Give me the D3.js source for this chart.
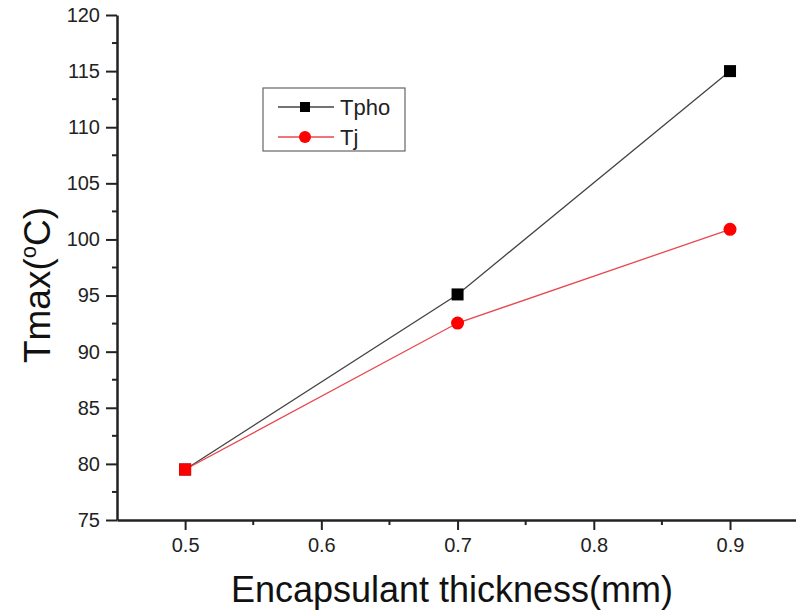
<!DOCTYPE html>
<html><head><meta charset="utf-8">
<script src="https://cdn.jsdelivr.net/npm/d3@7"></script>
<style>body{margin:0;background:#fff}svg{display:block}</style>
</head><body>
<svg id="c" width="796" height="615"></svg>
<script>
const thickness = [0.5, 0.7, 0.9];
const tpho = [79.5, 95.1, 115.0];
const tj = [79.5, 92.55, 100.9];
const tjShapes = ["square", "circle", "circle"];
const xTicks = [0.5, 0.6, 0.7, 0.8, 0.9];
const yTicks = [75, 80, 85, 90, 95, 100, 105, 110, 115, 120];
const seriesNames = ["Tpho", "Tj"];

const svg = d3.select("#c");
const font = "Liberation Sans, Arial, sans-serif";
const x = d3.scaleLinear().domain([0.45, 0.98]).range([117, 839]);
const y = d3.scaleLinear().domain([75, 120]).range([520, 15]);

const xMinor = d3.range(0.45, 0.98, 0.05).filter(v => !xTicks.some(t => Math.abs(t - v) < 1e-6) && v > 0.46);
const yMinor = d3.range(77.5, 120, 5);

const gx = svg.append("g").attr("transform", "translate(0,520)");
gx.call(d3.axisBottom(x).tickValues(xTicks).tickFormat(d3.format(".1f")).tickSize(10).tickSizeOuter(0).tickPadding(8));
gx.selectAll("line.minor").data(xMinor).enter().append("line")
  .attr("x1", d => x(d)).attr("x2", d => x(d)).attr("y1", 0).attr("y2", 5).attr("stroke", "#222").attr("stroke-width", 2);

const gy = svg.append("g").attr("transform", "translate(117,0)");
gy.call(d3.axisLeft(y).tickValues(yTicks).tickSize(11).tickSizeOuter(0).tickPadding(6));
gy.selectAll("line.minor").data(yMinor).enter().append("line")
  .attr("x1", -5).attr("x2", 0).attr("y1", d => y(d)).attr("y2", d => y(d)).attr("stroke", "#222").attr("stroke-width", 2);

[gx, gy].forEach(g => {
  g.select(".domain").attr("stroke", "#222").attr("stroke-width", 2.5);
  g.selectAll(".tick line").attr("stroke", "#222").attr("stroke-width", 2);
  g.selectAll(".tick text").attr("font-family", font).attr("font-size", 20).attr("fill", "#222");
});

const line = d3.line().x((d,i) => x(thickness[i])).y(d => y(d));
svg.append("path").datum(tpho).attr("d", line).attr("fill", "none").attr("stroke", "#444").attr("stroke-width", 1.3);
svg.append("path").datum(tj).attr("d", line).attr("fill", "none").attr("stroke", "#e8474f").attr("stroke-width", 1.3);

svg.selectAll("rect.tpho").data(tpho).enter().append("rect")
  .attr("x", (d,i) => x(thickness[i]) - 6).attr("y", d => y(d) - 6)
  .attr("width", 12).attr("height", 12).attr("fill", "#000");
tj.forEach((v, i) => {
  if (tjShapes[i] === "square") {
    svg.append("rect").attr("x", x(thickness[i]) - 6).attr("y", y(v) - 6).attr("width", 12).attr("height", 12).attr("fill", "#f00");
  } else {
    svg.append("circle").attr("cx", x(thickness[i])).attr("cy", y(v)).attr("r", 6.5).attr("fill", "#f00");
  }
});

const lg = svg.append("g");
lg.append("rect").attr("x", 263).attr("y", 88).attr("width", 142).attr("height", 63)
  .attr("fill", "#fff").attr("stroke", "#666").attr("stroke-width", 1.2);
const lyPos = [107, 137];
const lColors = ["#444", "#e8474f"];
seriesNames.forEach((n, i) => {
  lg.append("line").attr("x1", 278).attr("x2", 334).attr("y1", lyPos[i]).attr("y2", lyPos[i]).attr("stroke", lColors[i]).attr("stroke-width", 1.3);
  if (i === 0) lg.append("rect").attr("x", 300).attr("y", lyPos[i] - 5).attr("width", 10).attr("height", 10).attr("fill", "#000");
  else lg.append("circle").attr("cx", 305).attr("cy", lyPos[i]).attr("r", 6).attr("fill", "#f00");
  lg.append("text").attr("x", 340).attr("y", lyPos[i] + 8).attr("font-family", font).attr("font-size", 22).attr("fill", "#222").text(n);
});

svg.append("text").attr("x", 452).attr("y", 602).attr("text-anchor", "middle")
  .attr("font-family", font).attr("font-size", 36).attr("fill", "#111").text("Encapsulant thickness(mm)");
const yt = svg.append("text").attr("transform", "translate(50,285) rotate(-90)").attr("text-anchor", "middle")
  .attr("font-family", font).attr("font-size", 37).attr("fill", "#111");
yt.append("tspan").text("Tmax(");
yt.append("tspan").attr("font-size", 22).attr("dy", -14).text("o");
yt.append("tspan").attr("dy", 14).text("C)");
</script>
</body></html>
